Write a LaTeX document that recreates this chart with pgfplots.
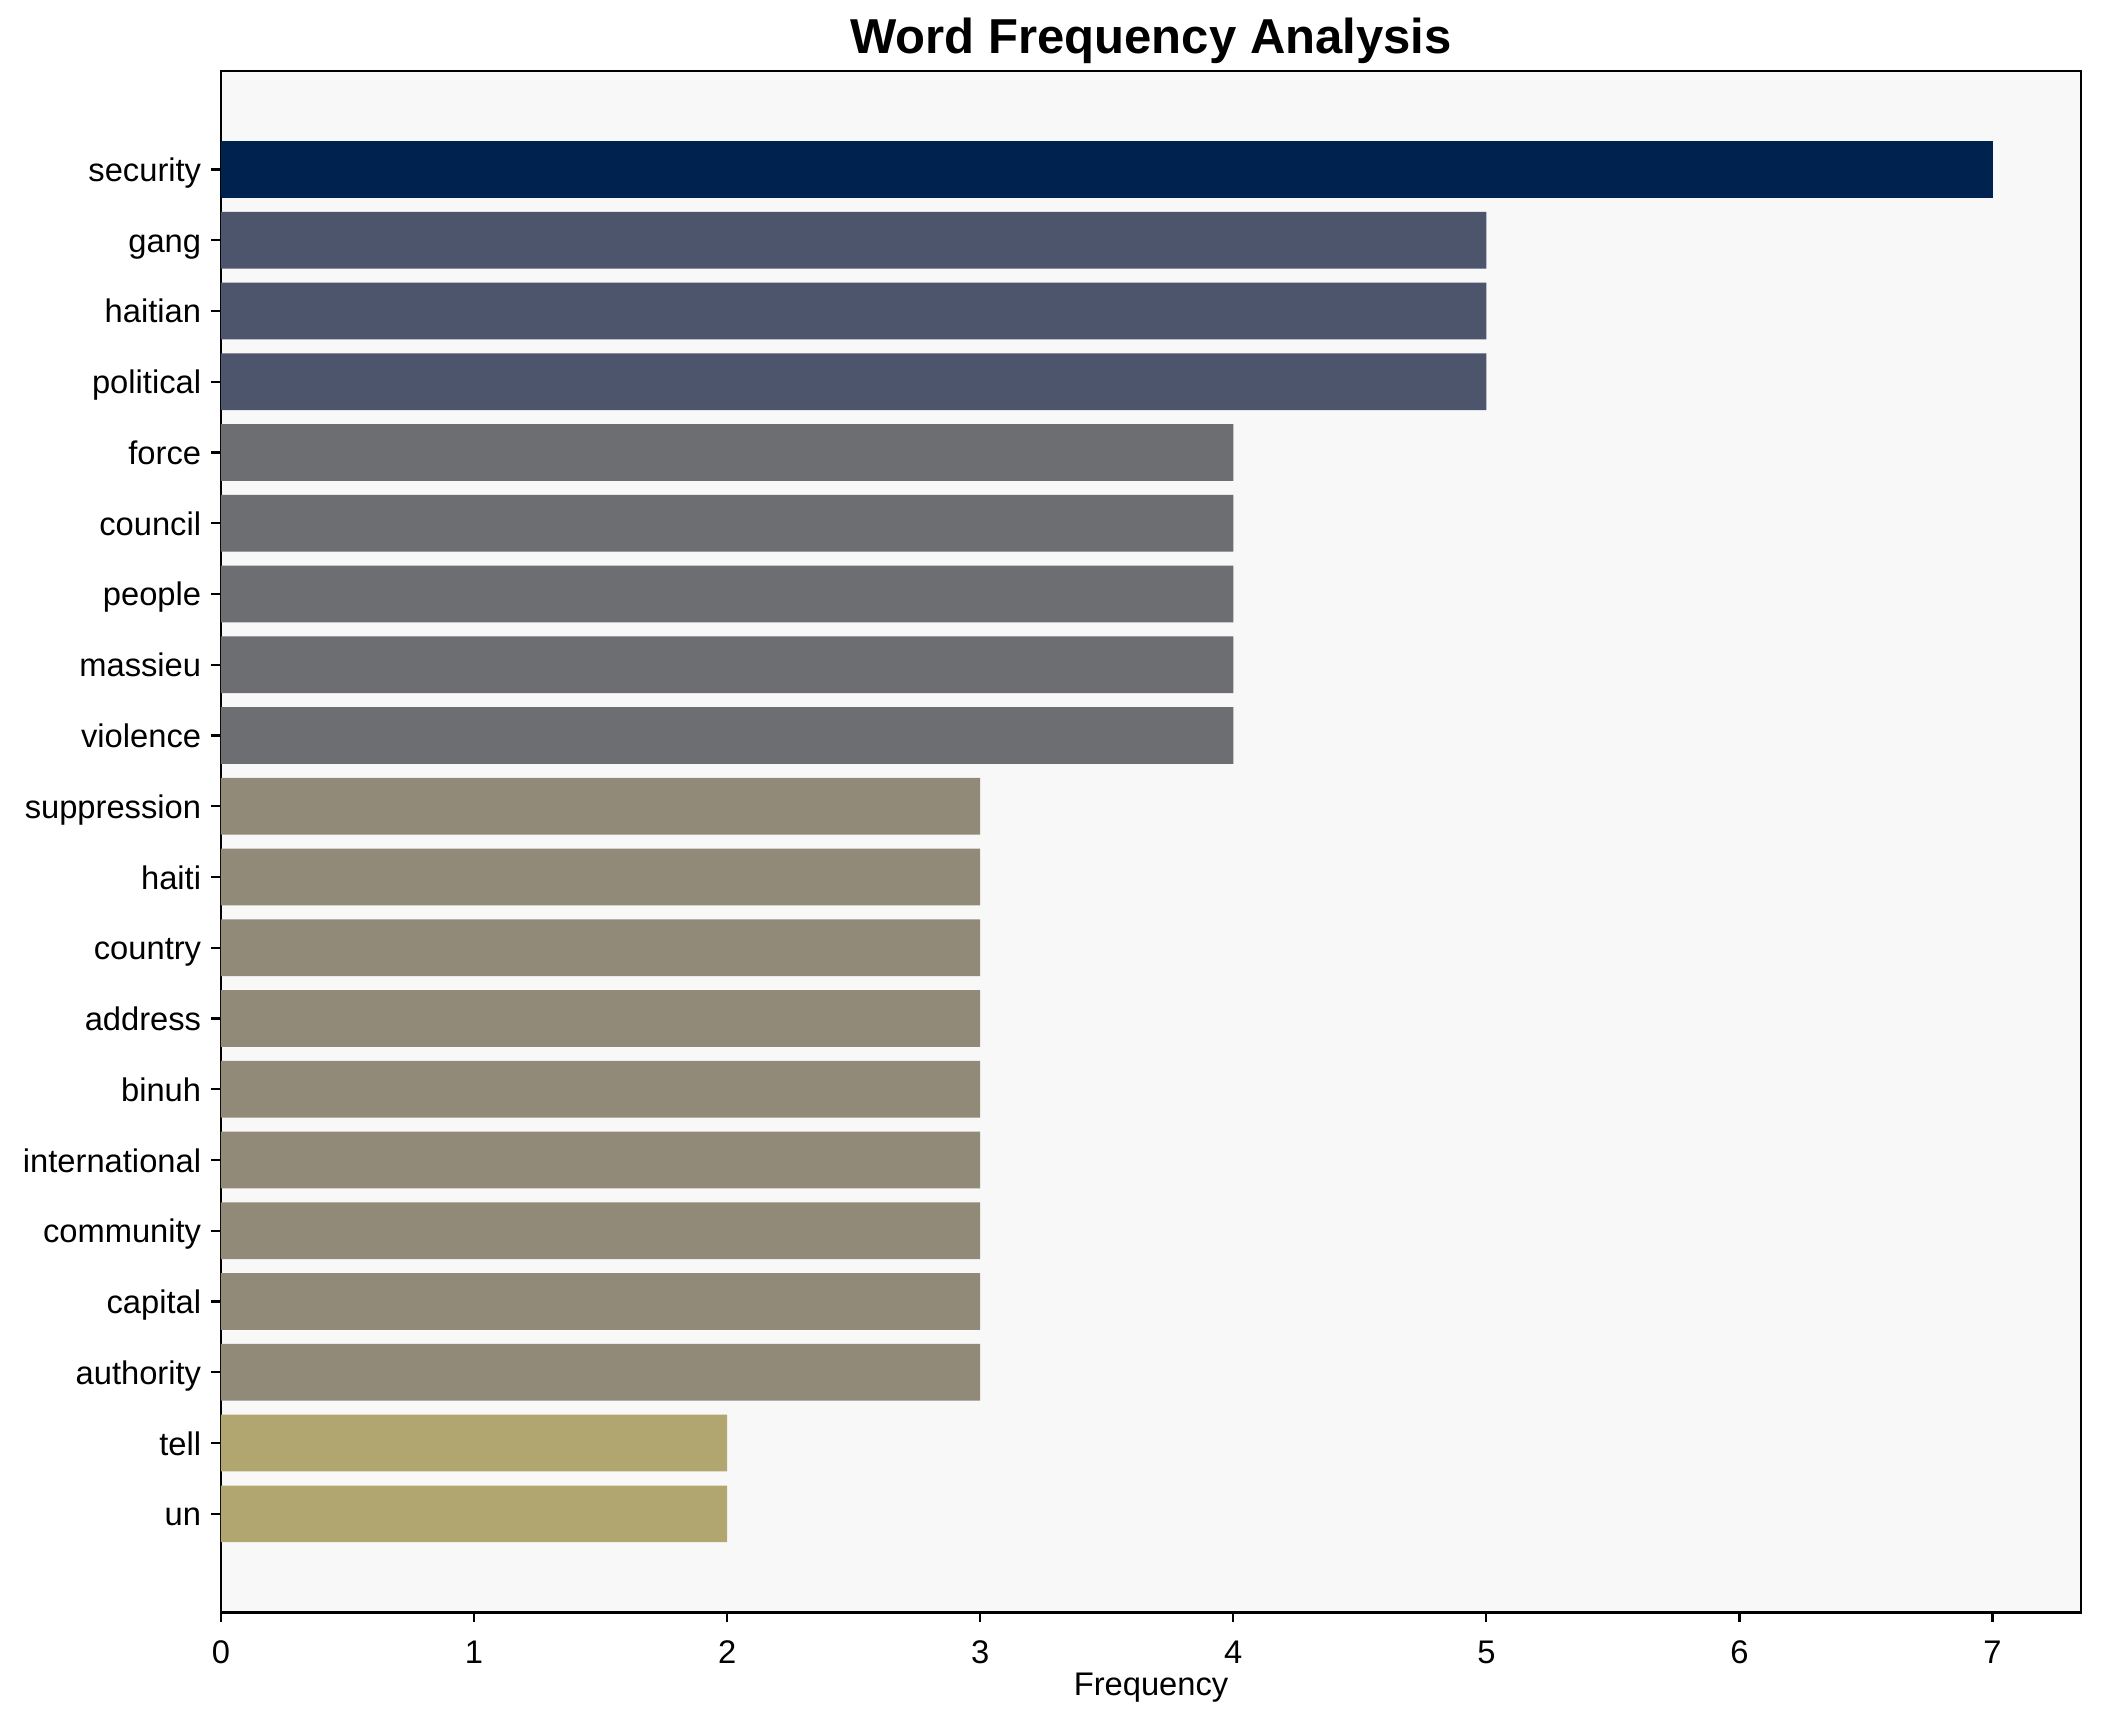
\documentclass[border=0pt]{standalone}
\usepackage{fontspec}
\setmainfont{Liberation Sans}
\usepackage{pgfplots}
\pgfplotsset{compat=1.18}
\definecolor{cA}{HTML}{00224E}
\definecolor{cB}{HTML}{4C556C}
\definecolor{cC}{HTML}{6D6E72}
\definecolor{cD}{HTML}{918A78}
\definecolor{cE}{HTML}{B1A670}
\definecolor{bgc}{HTML}{F8F8F8}
\begin{document}
\begin{tikzpicture}
\path[use as bounding box] (-81.1pt,-40.4pt) rectangle (689.9pt,591.6pt);
\begin{axis}[
  at={(0,0)}, anchor=south west,
  scale only axis, width=682.6pt, height=565.5pt,
  xmin=0, xmax=7.35, ymin=-1.39, ymax=20.39, y dir=reverse,
  xbar, bar width=0.8, bar shift=0pt,
  ytick={0,...,19},
  yticklabels={security,gang,haitian,political,force,council,people,massieu,violence,suppression,haiti,country,address,binuh,international,community,capital,authority,tell,un},
  xtick={0,...,7},
  xtick pos=left, ytick pos=left,
  tick align=outside, major tick length=3.5pt,
  tick style={black, line width=0.8pt},
  axis line style={line width=1pt},
  axis background/.style={fill=bgc},
  /pgf/number format/assume math mode=true,
  ticklabel style={font=\fontsize{12}{14}\selectfont},
  yticklabel style={anchor=base east, inner sep=0pt, xshift=-3.6pt, yshift=-4.4pt},
  xticklabel style={anchor=base, inner sep=0pt, yshift=-15.4pt},
  title={Word Frequency Analysis},
  title style={font=\fontsize{18}{21}\selectfont\bfseries, at={(axis description cs:0.5,1)}, anchor=base, yshift=0.4pt},
  xlabel={Frequency},
  xlabel style={font=\fontsize{12}{14}\selectfont, at={(axis description cs:0.5,0)}, anchor=base, yshift=-30.6pt},
]
\addplot[fill=cA, draw=none] coordinates {(7,0)};
\addplot[fill=cB, draw=none] coordinates {(5,1) (5,2) (5,3)};
\addplot[fill=cC, draw=none] coordinates {(4,4) (4,5) (4,6) (4,7) (4,8)};
\addplot[fill=cD, draw=none] coordinates {(3,9) (3,10) (3,11) (3,12) (3,13) (3,14) (3,15) (3,16) (3,17)};
\addplot[fill=cE, draw=none] coordinates {(2,18) (2,19)};
\end{axis}
\end{tikzpicture}
\end{document}
